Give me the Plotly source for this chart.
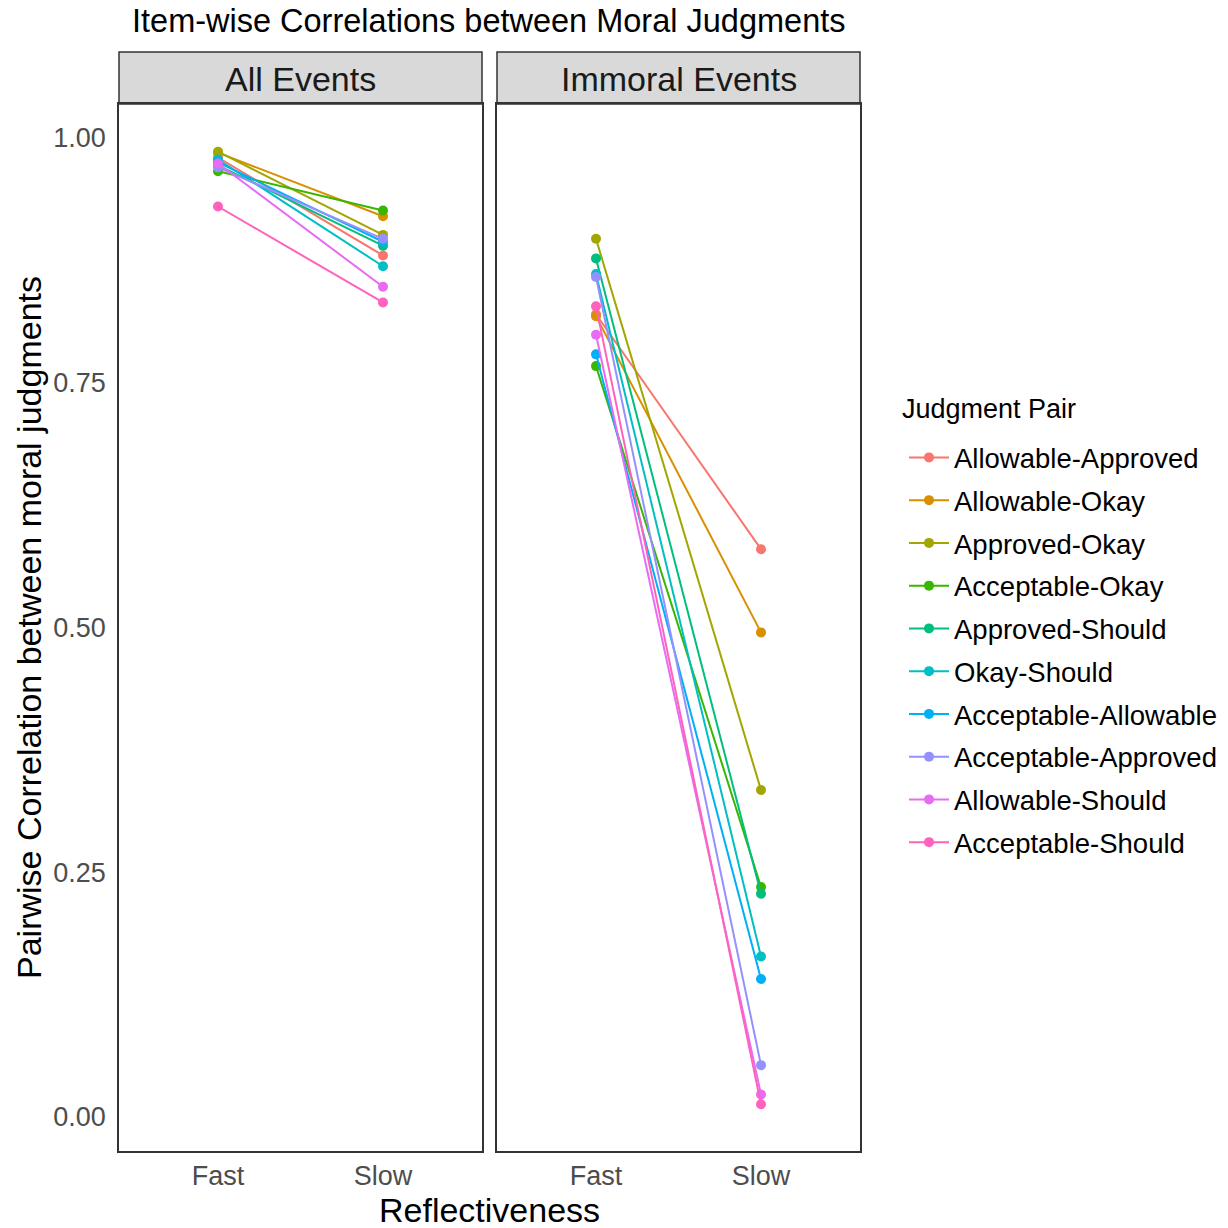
import plotly.graph_objects as go

pairs = ["Allowable-Approved", "Allowable-Okay", "Approved-Okay", "Acceptable-Okay",
         "Approved-Should", "Okay-Should", "Acceptable-Allowable", "Acceptable-Approved",
         "Allowable-Should", "Acceptable-Should"]
colors = ["#F8766D", "#D89000", "#A3A500", "#39B600", "#00BF7D",
          "#00BFC4", "#00B0F6", "#9590FF", "#E76BF3", "#FF62BC"]
reflect = ["Fast", "Slow"]

all_fast = [0.980, 0.985, 0.986, 0.966, 0.972, 0.978, 0.975, 0.970, 0.974, 0.930]
all_slow = [0.880, 0.920, 0.901, 0.926, 0.890, 0.869, 0.894, 0.897, 0.848, 0.832]
imm_fast = [0.820, 0.818, 0.897, 0.767, 0.877, 0.861, 0.779, 0.858, 0.799, 0.828]
imm_slow = [0.580, 0.495, 0.334, 0.235, 0.228, 0.164, 0.141, 0.053, 0.023, 0.013]

W = H = 1228
fig = go.Figure()
for i, p in enumerate(pairs):
    fig.add_trace(go.Scatter(x=reflect, y=[all_fast[i], all_slow[i]], mode="lines+markers",
                             name=p, legendgroup=p, showlegend=True,
                             line=dict(color=colors[i], width=2),
                             marker=dict(color=colors[i], size=10),
                             xaxis="x", yaxis="y"))
    fig.add_trace(go.Scatter(x=reflect, y=[imm_fast[i], imm_slow[i]], mode="lines+markers",
                             name=p, legendgroup=p, showlegend=False,
                             line=dict(color=colors[i], width=2),
                             marker=dict(color=colors[i], size=10),
                             xaxis="x2", yaxis="y2"))

def px_x(v):
    return v / W

def px_y(v):
    return 1 - v / H

yr = [-0.0347, 1.0347]
axis_common = dict(showgrid=False, zeroline=False, showline=True, linecolor="#333333",
                   linewidth=1.5, mirror=True, ticks="",
                   tickfont=dict(family="Liberation Sans, Arial", size=27, color="#4D4D4D"))
fig.update_layout(
    width=W, height=H, margin=dict(l=0, r=0, t=0, b=0),
    paper_bgcolor="white", plot_bgcolor="white",
    font=dict(family="Liberation Sans, Arial", color="black"),
    xaxis=dict(domain=[px_x(119), px_x(482)], range=[-0.6, 1.6], type="category",
               anchor="y", **axis_common),
    xaxis2=dict(domain=[px_x(497), px_x(860)], range=[-0.6, 1.6], type="category",
                anchor="y2", **axis_common),
    yaxis=dict(domain=[px_y(1151), px_y(104)], range=yr, tickvals=[0, 0.25, 0.5, 0.75, 1.0],
               ticktext=["0.00", "0.25", "0.50", "0.75", "1.00"], anchor="x",
               ticklabelstandoff=6, **axis_common),
    yaxis2=dict(domain=[px_y(1151), px_y(104)], range=yr, showticklabels=False,
                anchor="x2", **{k: v for k, v in axis_common.items() if k != "tickfont"}),
    legend=dict(x=px_x(904), y=px_y(433), xanchor="left", yanchor="top",
                font=dict(size=27.5, color="black"),
                tracegroupgap=4, itemwidth=40, bgcolor="rgba(0,0,0,0)"),
)

shapes = []
for x0, x1, label in [(119, 482, "All Events"), (497, 860, "Immoral Events")]:
    shapes.append(dict(type="rect", xref="paper", yref="paper", x0=px_x(x0), x1=px_x(x1),
                       y0=px_y(104), y1=px_y(52), fillcolor="#D9D9D9",
                       line=dict(color="#333333", width=1.5), layer="below"))
    fig.add_annotation(text=label, xref="paper", yref="paper", x=px_x((x0 + x1) / 2),
                       y=px_y(79), xanchor="center", yanchor="middle", showarrow=False,
                       font=dict(size=34, color="#1A1A1A"))
fig.update_layout(shapes=shapes)

fig.add_annotation(text="Judgment Pair", xref="paper", yref="paper",
                   x=px_x(900), y=px_y(409), xanchor="left", yanchor="middle", showarrow=False,
                   font=dict(size=27, color="black"))
fig.add_annotation(text="Item-wise Correlations between Moral Judgments", xref="paper", yref="paper",
                   x=px_x(489), y=px_y(21), xanchor="center", yanchor="middle", showarrow=False,
                   font=dict(size=32.5, color="black"))
fig.add_annotation(text="Reflectiveness", xref="paper", yref="paper",
                   x=px_x(489), y=px_y(1210), xanchor="center", yanchor="middle", showarrow=False,
                   font=dict(size=34, color="black"))
fig.add_annotation(text="Pairwise Correlation between moral judgments", xref="paper", yref="paper",
                   x=px_x(29), y=px_y(628), xanchor="center", yanchor="middle", showarrow=False,
                   textangle=-90, font=dict(size=34, color="black"))

fig.write_html("out.html")
